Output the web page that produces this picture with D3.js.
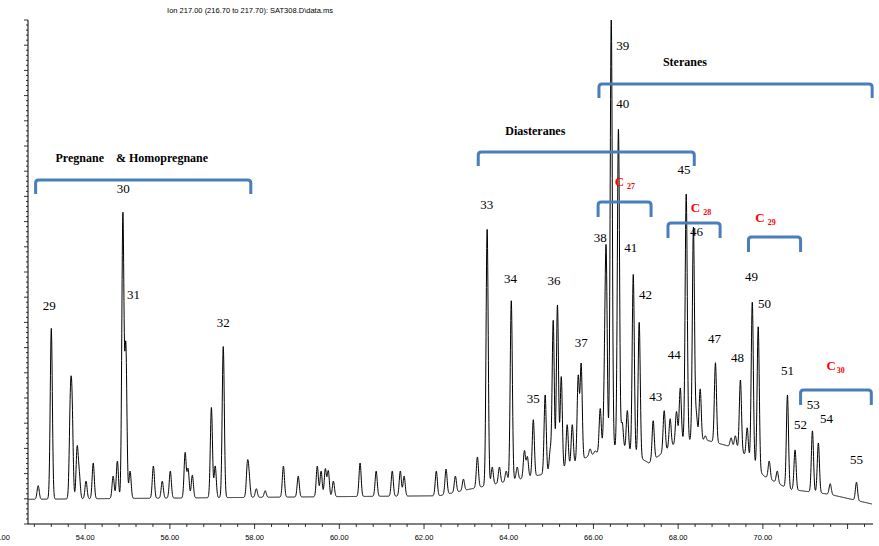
<!DOCTYPE html>
<html><head><meta charset="utf-8">
<script src="https://cdn.jsdelivr.net/npm/d3@7"></script>
<style>body{margin:0;background:#fff}svg{display:block}text{white-space:pre}</style>
</head><body><svg id="c"></svg>
<script>
// peak apexes: retention time (min) and abundance at apex (% of largest)
const peakTimes = [52.89,53.20,53.65,53.69,53.81,53.86,54.02,54.19,54.66,54.76,54.89,54.96,55.06,55.61,55.82,56.01,56.36,56.43,56.53,56.98,57.07,57.26,57.83,57.87,58.04,58.25,58.68,59.03,59.48,59.57,59.67,59.74,59.86,60.49,60.87,61.25,61.44,61.53,62.29,62.52,62.74,62.93,63.26,63.49,63.61,63.78,63.94,64.06,64.20,64.37,64.44,64.58,64.86,64.98,65.05,65.15,65.24,65.38,65.50,65.64,65.71,65.92,66.04,66.16,66.26,66.30,66.42,66.59,66.68,66.80,66.94,67.08,67.41,67.67,67.81,67.96,68.05,68.19,68.36,68.43,68.52,68.64,68.88,69.09,69.25,69.35,69.47,69.63,69.75,69.89,70.15,70.34,70.58,70.76,71.17,71.31,71.59,72.21];
const peakApex  = [7.6,38.8,22.1,21.5,14.9,9.5,8.5,12.1,9.5,12.5,61.3,35.0,10.5,11.5,8.5,10.5,14.1,10.9,9.7,23.1,11.5,35.2,11.5,8.9,7.0,6.6,11.5,9.5,11.5,10.5,10.9,10.5,8.5,12.1,10.5,10.5,10.5,9.5,10.5,10.9,9.5,8.9,13.3,58.6,11.3,11.3,10.5,44.3,11.3,14.5,13.3,20.7,25.6,14.5,40.4,43.5,29.2,19.7,19.7,29.2,31.6,14.9,14.5,22.9,25.4,52.1,100,78.5,20.1,22.5,49.5,40.0,20.5,22.5,20.9,22.3,27.0,65.6,58.8,21.5,26.8,17.5,32.0,13.5,17.1,17.5,28.6,19.1,44.1,39.2,12.5,10.5,25.6,14.7,18.5,16.1,8.0,8.3];
const peakSigma = 0.025; // min
// slowly varying baseline / unresolved hump under the peaks
const baseTimes = [52.65,62.36,63.07,64.25,65.19,65.90,66.61,67.31,68.02,68.73,69.44,70.03,70.62,71.57,72.56];
const baseLevel = [4.9,5.6,6.9,8.9,10.5,13.5,15.5,12.1,16.5,16.5,14.9,9.5,6.9,5.9,4.0];
const xTicks = [52,54,56,58,60,62,64,66,68,70];
const peakLabels = [
  ["29",53.15,305],["30",54.90,188],["31",55.14,294],["32",57.26,322],["33",63.48,204],
  ["34",64.04,278],["35",64.58,398],["36",65.07,280],["37",65.71,342],["38",66.16,237],
  ["39",66.69,45],["40",66.69,103],["41",66.88,247],["42",67.23,294],["43",67.47,396],
  ["44",67.91,354],["45",68.14,169],["46",68.43,231],["47",68.86,338],["48",69.40,357],
  ["49",69.73,276],["50",70.04,303],["51",70.58,370],["52",70.89,424],["53",71.19,404],
  ["54",71.50,418],["55",72.21,459]];
// groups: [label, start, end, bracket y, label x, label y, red?]
const groups = [
  ["Pregnane    & Homopregnane",52.83,57.91,180,53.3,158,false],
  ["Diasteranes",63.28,68.38,152,63.92,131,false],
  ["Steranes",66.13,72.58,84,67.64,62,false],
  ["27",66.11,67.36,202,66.50,182,true],
  ["28",67.76,68.99,223,68.30,208,true],
  ["29",69.66,70.89,237,69.82,218,true],
  ["30",70.89,72.56,390,71.50,366,true]];

const W = 879, H = 546;
const svg = d3.select("#c").attr("width", W).attr("height", H);
const x = d3.scaleLinear().domain([52.65, 72.6]).range([28, 873]);
const y = d3.scaleLinear().domain([0, 100]).range([524, 20]);
const base = d3.scaleLinear().domain(baseTimes).range(baseLevel);

const ts = d3.range(52.66, 72.58, 0.004);
const trace = ts.map(t => {
  let v = base(t);
  peakTimes.forEach((p, i) => {
    const h = Math.max(0, peakApex[i] - base(p));
    const d = (t - p) / peakSigma;
    if (Math.abs(d) < 6) v += h * Math.exp(-0.5 * d * d);
  });
  return [t, v];
});

svg.append("text").attr("x", 250).attr("y", 13).attr("text-anchor", "middle")
  .attr("font-family", "Liberation Sans, Arial").attr("font-size", 7.5)
  .text("Ion 217.00 (216.70 to 217.70): SAT308.D\\data.ms");

svg.append("path").datum(trace).attr("fill", "none").attr("stroke", "#000")
  .attr("stroke-width", 1).attr("stroke-linejoin", "round")
  .attr("d", d3.line().x(d => x(d[0])).y(d => y(d[1])));

// y axis with minor ticks, no labels
svg.append("line").attr("x1", 28).attr("x2", 28).attr("y1", 20).attr("y2", 524).attr("stroke", "#000");
d3.range(0, 101, 1).forEach(v => {
  svg.append("line").attr("x1", 28).attr("x2", v % 5 === 0 ? 24 : 26)
    .attr("y1", y(v)).attr("y2", y(v)).attr("stroke", "#000").attr("stroke-width", 0.8);
});

// x axis
const xa = svg.append("g").attr("transform", "translate(0,524)");
xa.append("line").attr("x1", 28).attr("x2", 873).attr("stroke", "#000");
d3.range(52.8, 72.6, 0.4).forEach(t => {
  const major = Math.abs(t - Math.round(t)) < 0.01 && Math.round(t) % 2 === 0;
  xa.append("line").attr("x1", x(t)).attr("x2", x(t)).attr("y1", 0).attr("y2", major ? 5 : 3)
    .attr("stroke", "#000").attr("stroke-width", 0.8);
});
xa.selectAll("text.tl").data(xTicks).join("text").attr("class", "tl")
  .attr("x", d => x(d)).attr("y", 16).attr("text-anchor", "middle")
  .attr("font-family", "Liberation Sans, Arial").attr("font-size", 7.5).text(d => d.toFixed(2));

// peak numbers
svg.selectAll("text.pk").data(peakLabels).join("text").attr("class", "pk")
  .attr("x", d => x(d[1])).attr("y", d => d[2] + 5).attr("text-anchor", "middle")
  .attr("font-family", "Liberation Serif, Times New Roman").attr("font-size", 13).text(d => d[0]);

// brackets and group names
groups.forEach(g => {
  const x0 = x(g[1]), x1 = x(g[2]), by = g[3], r = 3, dh = g[6] ? 15 : 14;
  svg.append("path").attr("fill", "none").attr("stroke", "#4a7ebb").attr("stroke-width", 3)
    .attr("d", `M${x0},${by + dh}V${by + r}Q${x0},${by} ${x0 + r},${by}H${x1 - r}Q${x1},${by} ${x1},${by + r}V${by + dh}`);
  const t = svg.append("text").attr("x", x(g[4])).attr("y", g[5] + 4)
    .attr("font-family", "Liberation Serif, Times New Roman").attr("font-weight", "bold")
    .attr("font-size", g[6] ? 13 : 12).attr("fill", g[6] ? "#ff0000" : "#000");
  if (g[6]) {
    t.append("tspan").text("C");
    t.append("tspan").attr("font-size", 8).attr("dx", g[0] === "30" ? 1 : 3).attr("dy", 3).text(g[0]);
  } else t.text(g[0]);
});
</script></body></html>
